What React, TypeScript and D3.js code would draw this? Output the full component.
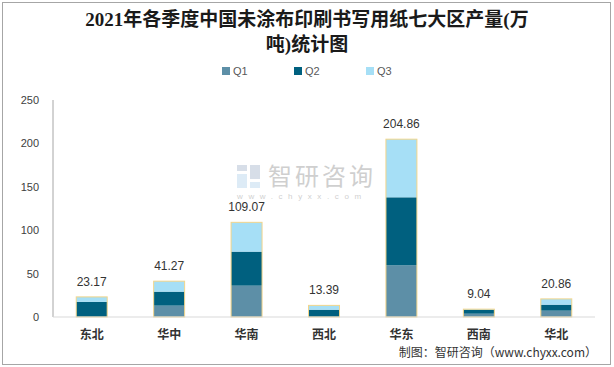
import * as d3 from "d3";

const regions = ["东北", "华中", "华南", "西北", "华东", "西南", "华北"];
const q1 = [0, 13.1, 36.1, 0, 59.5, 3.8, 7.3];
const q2 = [17.5, 16.1, 39.2, 8.4, 78.4, 4.6, 6.9];
const q3 = [5.67, 12.07, 33.77, 4.99, 66.96, 0.64, 6.66];
const totals = ["23.17", "41.27", "109.07", "13.39", "204.86", "9.04", "20.86"];
const yTicks = [0, 50, 100, 150, 200, 250];
const seriesNames = ["Q1", "Q2", "Q3"];
const colors = ["#5d8fa7", "#00607f", "#a6dff6"];

const W = 614;
const H = 367;
const margin = { top: 100, right: 19, bottom: 50, left: 53 };

const App = () => {
  const x = d3
    .scaleBand()
    .domain(regions)
    .range([margin.left, W - margin.right])
    .paddingInner(0.6)
    .paddingOuter(0.3);
  const y = d3.scaleLinear().domain([0, 250]).range([H - margin.bottom, margin.top]);

  const rows = regions.map((r, i) => ({ region: r, Q1: q1[i], Q2: q2[i], Q3: q3[i] }));
  const stacked = d3.stack().keys(seriesNames)(rows);

  const cjk = '"Liberation Serif", "Noto Sans CJK SC", serif';
  const sans = '"Liberation Sans", "DejaVu Sans", sans-serif';

  return (
    <svg
      width={W}
      height={H}
      style={{ position: "absolute", left: 0, top: 0, background: "#fff" }}
    >
      <rect x={2.5} y={2.5} width={W - 6} height={H - 5} fill="#fff" stroke="#a6a6a6" />
      <text x={307} y={26} textAnchor="middle" fontSize={19} fontWeight="bold" fill="#1a1a1a" fontFamily={cjk}>
        2021年各季度中国未涂布印刷书写用纸七大区产量(万
      </text>
      <text x={307} y={51} textAnchor="middle" fontSize={19} fontWeight="bold" fill="#1a1a1a" fontFamily={cjk}>
        吨)统计图
      </text>

      {seriesNames.map((s, i) => (
        <g key={s} transform={`translate(${222 + i * 72}, 67)`}>
          <rect width={8} height={8} fill={colors[i]} />
          <text x={11} y={8} fontSize={11} fill="#595959" fontFamily={sans}>
            {s}
          </text>
        </g>
      ))}

      {/* watermark */}
      <g opacity={0.35}>
        <rect x={237} y={165} width={10} height={6} fill="#8fa3c0" />
        <rect x={250} y={165} width={10} height={14} fill="#8fa3c0" />
        <rect x={237} y={174} width={10} height={14} fill="#9fc8e8" />
        <rect x={250} y={182} width={10} height={6} fill="#9fc8e8" />
        <text x={268} y={185} fontSize={24} fill="#777" fontFamily='"Noto Sans CJK SC", sans-serif' letterSpacing={3}>
          智研咨询
        </text>
        <text x={237} y={199} fontSize={8} fill="#777" fontFamily={sans} letterSpacing={5.6}>
          www.chyxx.com
        </text>
      </g>

      <line x1={margin.left} x2={margin.left} y1={margin.top} y2={y(0)} stroke="#a6a6a6" />
      {yTicks.map((t) => (
        <text key={t} x={39} y={y(t) + 4} textAnchor="end" fontSize={11} fill="#404040" fontFamily={sans}>
          {t}
        </text>
      ))}

      {stacked.map((layer, si) =>
        layer.map((d, i) => (
          <rect
            key={`${si}-${i}`}
            x={x(regions[i])}
            y={y(d[1])}
            width={x.bandwidth()}
            height={y(d[0]) - y(d[1])}
            fill={colors[si]}
          />
        ))
      )}
      {regions.map((r, i) => {
        const top = q1[i] + q2[i] + q3[i];
        return (
          <g key={r}>
            <rect
              x={x(r)}
              y={y(top)}
              width={x.bandwidth()}
              height={y(0) - y(top)}
              fill="none"
              stroke="#f2d58a"
            />
            <text
              x={x(r) + x.bandwidth() / 2}
              y={y(top) - 11}
              textAnchor="middle"
              fontSize={12}
              fill="#333"
              fontFamily={sans}
            >
              {totals[i]}
            </text>
            <text
              x={x(r) + x.bandwidth() / 2}
              y={339}
              textAnchor="middle"
              fontSize={12}
              fontWeight="bold"
              fill="#333"
              fontFamily='"Noto Sans CJK SC", sans-serif'
            >
              {r}
            </text>
          </g>
        );
      })}
      <line x1={margin.left} x2={W - margin.right} y1={y(0)} y2={y(0)} stroke="#d9d9d9" />

      <text x={597} y={357} textAnchor="end" fontSize={12} fill="#333" fontFamily='"Noto Sans CJK SC", sans-serif'>
        制图：智研咨询（www.chyxx.com）
      </text>
    </svg>
  );
};

export default App;
